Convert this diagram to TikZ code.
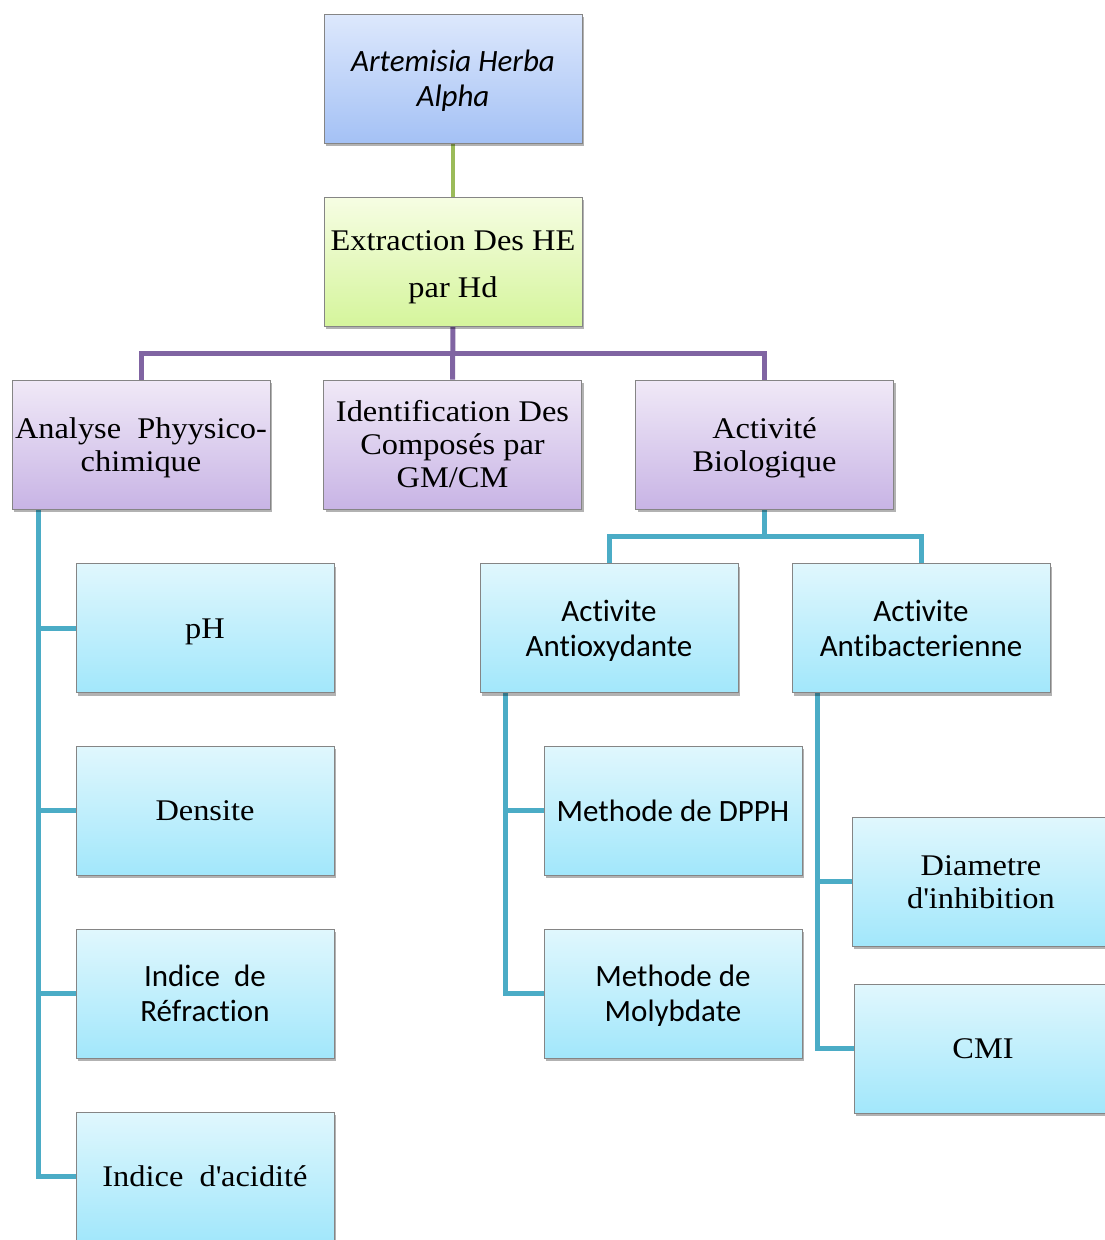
\documentclass[tikz,border=0pt]{standalone}
\usepackage{fontspec}
\setmainfont{Liberation Serif}[FakeStretch=1.08]
\newfontfamily\calib{Carlito}[Ligatures={NoCommon}]
\usetikzlibrary{shadows,calc,backgrounds}
\newcommand{\boxtext}[1]{\raisebox{-3.5pt}[\height][\depth]{\begin{tabular}{@{}c@{}}#1\end{tabular}}}
\definecolor{boxborder}{HTML}{858585}
\definecolor{bluetop}{HTML}{DDE8FC}
\definecolor{bluebot}{HTML}{A4C1F5}
\definecolor{greentop}{HTML}{F6FDE3}
\definecolor{greenbot}{HTML}{D5F59C}
\definecolor{purptop}{HTML}{F0E9F7}
\definecolor{purpbot}{HTML}{C8B4E5}
\definecolor{cyantop}{HTML}{E0F7FD}
\definecolor{cyanbot}{HTML}{A2E7FB}
\definecolor{lgreen}{HTML}{9BBB59}
\definecolor{lpurple}{HTML}{8064A2}
\definecolor{lteal}{HTML}{4BACC6}
\begin{document}
\begin{tikzpicture}[x=1pt,y=-1pt,
  box/.style={draw=boxborder, line width=0.8pt, minimum width=258pt, minimum height=129pt,
    inner sep=1pt, text=black,
    drop shadow={shadow xshift=2pt,shadow yshift=-3pt,opacity=0.3,fill=black}},
  bluebox/.style={box, top color=bluetop, bottom color=bluebot},
  greenbox/.style={box, top color=greentop, bottom color=greenbot},
  purplebox/.style={box, top color=purptop, bottom color=purpbot},
  cyanbox/.style={box, top color=cyantop, bottom color=cyanbot},
  serif/.style={font=\fontsize{30}{33}\selectfont},
  sans/.style={font=\calib\fontsize{31}{35}\selectfont},
  greenline/.style={draw=lgreen, line width=4pt},
  purpleline/.style={draw=lpurple, line width=5pt},
  tealline/.style={draw=lteal, line width=5pt}]
\useasboundingbox (0,0) rectangle (1104,1240);

\node[bluebox, font=\calib\itshape\fontsize{31}{35}\selectfont] (art) at (453,78.5) {\boxtext{Artemisia Herba\\Alpha}};
\node[greenbox, font=\fontsize{30}{47}\selectfont] (ext) at (453,261.5) {\boxtext{Extraction Des HE\\par Hd}};

\node[purplebox, serif] (ana) at (141,444.5) {\boxtext{Analyse\ \ Phyysico-\\chimique}};
\node[purplebox, serif] (ide) at (452.5,444.5) {\boxtext{Identification Des\\Composés par\\GM/CM}};
\node[purplebox, serif] (bio) at (764.5,444.5) {\boxtext{Activité\\Biologique}};

\node[cyanbox, serif] (ph) at (205,628) {\boxtext{pH}};
\node[cyanbox, serif] (den) at (205,810.5) {\boxtext{Densite}};
\node[cyanbox, sans] (ref) at (205,993.5) {\boxtext{Indice\ \ de\\Réfraction}};
\node[cyanbox, serif] (aci) at (205,1176.5) {\boxtext{Indice\ \ d\textquotesingle acidité}};

\node[cyanbox, sans] (aox) at (609,628) {\boxtext{Activite\\Antioxydante}};
\node[cyanbox, sans] (abc) at (921,628) {\boxtext{Activite\\Antibacterienne}};

\node[cyanbox, sans] (dpph) at (673,810.5) {\boxtext{Methode de DPPH}};
\node[cyanbox, sans] (mol) at (673,993.5) {\boxtext{Methode de\\Molybdate}};

\node[cyanbox, serif] (dia) at (981,881.5) {\boxtext{Diametre\\d\textquotesingle inhibition}};
\node[cyanbox, serif] (cmi) at (983,1048.5) {\boxtext{CMI}};

\begin{scope}[on background layer]
\fill[white] (0,0) rectangle (1104,1240);
\draw[greenline] (art.south) -- (ext.north);
\draw[purpleline] (ext.south) -- (ide.north);
\coordinate (busa) at ($(ext.south)!0.5!(ide.north)$);
\draw[purpleline] (ana.north) |- (busa) -| (bio.north);
\coordinate (busb) at ($(bio.south)+(0,27)$);
\draw[tealline] (bio.south) -- (busb);
\draw[tealline] (aox.north) |- (busb) -| (abc.north);
\coordinate (ta) at ([xshift=27pt]ana.south west);
\draw[tealline] (ta) |- (aci.west);
\draw[tealline] (ta) |- (ph.west);
\draw[tealline] (ta) |- (den.west);
\draw[tealline] (ta) |- (ref.west);
\coordinate (tb) at ([xshift=26pt]aox.south west);
\draw[tealline] (tb) |- (mol.west);
\draw[tealline] (tb) |- (dpph.west);
\coordinate (tc) at ([xshift=26pt]abc.south west);
\draw[tealline] (tc) |- (cmi.west);
\draw[tealline] (tc) |- (dia.west);
\end{scope}
\end{tikzpicture}
\end{document}
